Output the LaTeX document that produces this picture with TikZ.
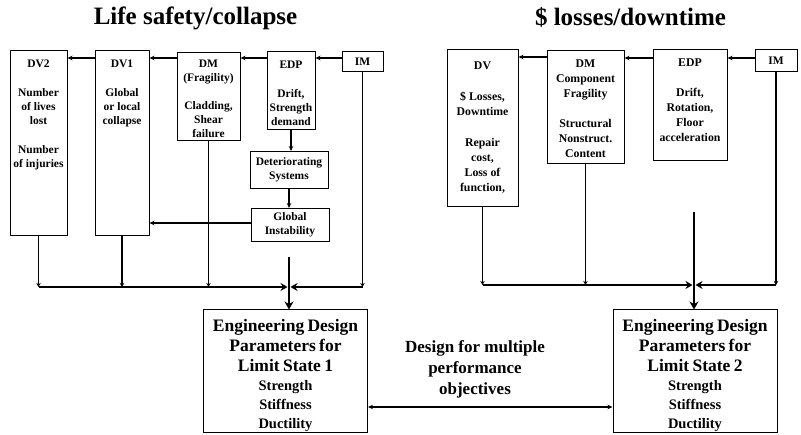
\documentclass[tikz,border=0pt]{standalone}
\usepackage{fontspec}
\setmainfont{Liberation Serif}
\usetikzlibrary{arrows.meta}

% top-aligned text inside a tall column box
\newcommand{\colbox}[4][5pt]{\parbox[t][#3][t]{#2}{\centering\vspace*{#1}#4}}

\begin{document}
\begin{tikzpicture}[
    x=1pt, y=-1pt,
    box/.style = {
        rectangle,
        draw=black,
        line width=1pt,
        fill=white,
        inner xsep=1pt,
        inner ysep=4pt,
        font=\bfseries\fontsize{11.5}{14}\selectfont
    },
    wide_box/.style = {
        box,
        font=\bfseries\fontsize{11.8}{15}\selectfont
    },
    smallbox/.style = {
        box,
        inner sep=1pt,
        align=center
    },
    limit_box/.style = {
        rectangle,
        draw=black,
        line width=1pt,
        fill=white,
        inner xsep=2pt,
        inner ysep=0pt,
        text width=160pt,
        align=center
    },
    title/.style = {
        anchor=base,
        font=\bfseries\fontsize{25}{30}\selectfont
    },
    note/.style = {
        align=center,
        font=\bfseries\fontsize{17}{21}\selectfont
    },
    arrow/.style = {
        -{Stealth[length=5pt,width=4.5pt]},
        line width=1.2pt
    },
    feed/.style = {
        -{Stealth[length=4pt,width=4.5pt]},
        line width=1.4pt
    },
    bus/.style = {
        -{Stealth[length=7pt,width=8pt]},
        line width=2.4pt
    },
    main_arrow/.style = {
        -{Stealth[length=8pt,width=9pt]},
        line width=2.8pt
    }
]
    \useasboundingbox (0,0) rectangle (801,435);

    % Titles
    \node [title] (lsTitle) at (195.5,25) {Life safety/collapse};
    \node [title] (lossTitle) at (630.5,26) {\$ losses/downtime};

    % Life safety chain
    \node [box, anchor=north] (DV2) at (38.5,50)
        {\colbox{55pt}{177pt}{DV2\\[15pt]Number\\of lives\\lost\\[15pt]Number\\of injuries}};
    \node [box, anchor=north] (DV1) at (122,50)
        {\colbox{52pt}{177pt}{DV1\\[15pt]Global\\or local\\collapse}};
    \node [box, anchor=north] (DMa) at (208.5,52)
        {\colbox[3pt]{61pt}{80pt}{DM\\(Fragility)\\[14pt]Cladding,\\Shear\\failure}};
    \node [box, anchor=north] (EDPa) at (291,51)
        {\colbox{46pt}{70pt}{EDP\\[15pt]Drift,\\Strength\\demand}};
    \node [smallbox, minimum width=41pt, minimum height=20pt] (IMa) at (362.5,62) {IM};
    \node [smallbox, minimum width=78pt, minimum height=37pt] (Det) at (289,170)
        {Deteriorating\\Systems};
    \node [smallbox, minimum width=78pt, minimum height=33pt] (Glob) at (290,225)
        {Global\\Instability};

    % Loss chain
    \node [wide_box, anchor=north] (DVb) at (482.5,49)
        {\colbox[8pt]{69pt}{149pt}{DV\\[16pt]\$ Losses,\\Downtime\\[16pt]Repair\\cost,\\Loss of\\function,}};
    \node [wide_box, anchor=north] (DMb) at (585.5,50)
        {\colbox{75pt}{105pt}{DM\\Component\\Fragility\\[15pt]Structural\\Nonstruct.\\Content}};
    \node [wide_box, anchor=north] (EDPb) at (690,49)
        {\colbox{72pt}{103pt}{EDP\\[15pt]Drift,\\Rotation,\\Floor\\acceleration}};
    \node [smallbox, minimum width=42pt, minimum height=22pt] (IMb) at (776,61) {IM};

    % Limit state boxes
    \node [limit_box, minimum height=123pt] (ELS1) at (285.5,371.5) {
        {\bfseries\fontsize{17.5}{20}\selectfont\rule{0pt}{21pt}Engineering Design\\Parameters for\\Limit State 1\par}
        {\bfseries\fontsize{14.5}{19}\selectfont Strength\\Stiffness\\Ductility\par}
    };
    \node [limit_box, minimum height=123pt] (ELS2) at (695,371.5) {
        {\bfseries\fontsize{17.5}{20}\selectfont\rule{0pt}{21pt}Engineering Design\\Parameters for\\Limit State 2\par}
        {\bfseries\fontsize{14.5}{19}\selectfont Strength\\Stiffness\\Ductility\par}
    };

    \node [note] (goal) at (475,369) {Design for multiple\\performance\\objectives};

    % Collector points
    \coordinate (busL) at (289,287);
    \coordinate (topL) at (289,257);
    \coordinate (busR) at (694,285);
    \coordinate (topR) at (694,212);

    % Arrows, life safety chain
    \draw [arrow] ([yshift=4pt]IMa.west) -- ([yshift=4pt]IMa.west -| EDPa.east);
    \draw [arrow] ([yshift=-7pt]EDPa.north west) -- ([yshift=-7pt]EDPa.north west -| DMa.east);
    \draw [arrow] ([yshift=-6pt]DMa.north west) -- ([yshift=-6pt]DMa.north west -| DV1.east);
    \draw [arrow] ([yshift=-8pt]DV1.north west) -- ([yshift=-8pt]DV1.north west -| DV2.east);
    \draw [arrow] (EDPa.south) -- (EDPa.south |- Det.north);
    \draw [arrow] (Det.south) -- (Det.south |- Glob.north);
    \draw [arrow] ([yshift=2pt]Glob.west) -- ([yshift=2pt]Glob.west -| DV1.east);

    \draw [feed] (DV2.south) -- (DV2.south |- busL);
    \draw [feed] (DV1.south) -- (DV1.south |- busL);
    \draw [feed] (DMa.south) -- (DMa.south |- busL);
    \draw [feed] (IMa.south) -- (IMa.south |- busL);
    \draw [bus] (DV2.south |- busL) -- ([xshift=-1.5pt]busL);
    \draw [bus] (IMa.south |- busL) -- ([xshift=1.5pt]busL);
    \draw [main_arrow] (topL) -- (topL |- ELS1.north);

    % Arrows, loss chain
    \draw [arrow] ([yshift=3pt]IMb.west) -- ([yshift=3pt]IMb.west -| EDPb.east);
    \draw [arrow] ([yshift=-9pt]EDPb.north west) -- ([yshift=-9pt]EDPb.north west -| DMb.east);
    \draw [arrow] ([yshift=-7pt]DMb.north west) -- ([yshift=-7pt]DMb.north west -| DVb.east);

    \draw [feed] (DVb.south) -- (DVb.south |- busR);
    \draw [feed] (DMb.south) -- (DMb.south |- busR);
    \draw [feed] (IMb.south) -- (IMb.south |- busR);
    \draw [bus] (DVb.south |- busR) -- ([xshift=-1.5pt]busR);
    \draw [bus] (IMb.south |- busR) -- ([xshift=1.5pt]busR);
    \draw [main_arrow] (topR) -- (topR |- ELS2.north);

    % Between the two limit states
    \draw [arrow, {Stealth[length=5pt,width=4.5pt]}-{Stealth[length=5pt,width=4.5pt]}]
        ([yshift=-35.5pt]ELS1.east) -- ([yshift=-35.5pt]ELS1.east -| ELS2.west);

\end{tikzpicture}
\end{document}
